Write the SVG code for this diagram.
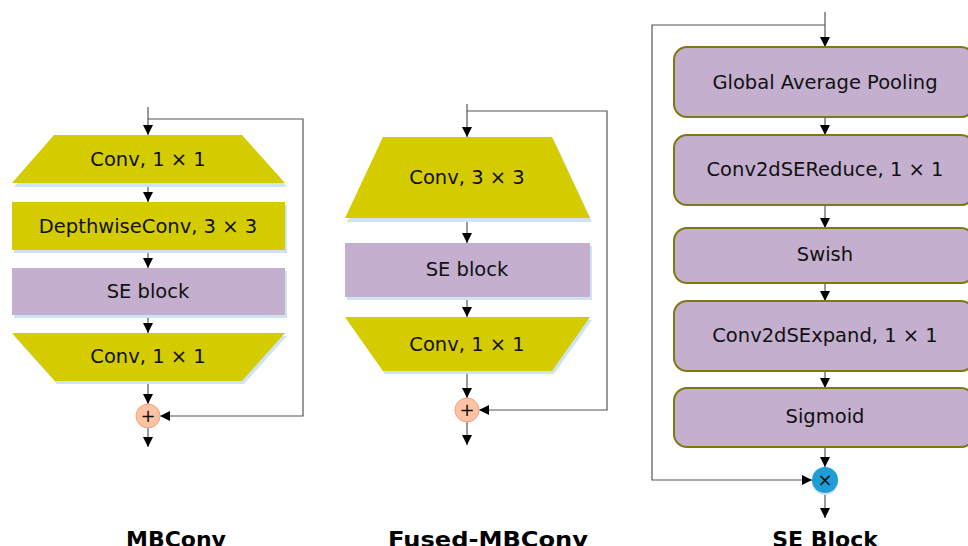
<svg xmlns="http://www.w3.org/2000/svg" width="968" height="546" viewBox="0 0 968 546">
<defs>
<marker id="ah" markerUnits="userSpaceOnUse" markerWidth="10" markerHeight="11" refX="10" refY="5.5" orient="auto">
<path d="M0,0.5 L10,5.5 L0,10.5 z" fill="#000"/>
</marker>
<style>
.lbl{font-family:"DejaVu Sans","Verdana",sans-serif;font-size:19.5px;fill:#111;text-anchor:middle;dominant-baseline:central}
.ttl{font-family:"DejaVu Sans","Verdana",sans-serif;font-size:22px;font-weight:bold;fill:#000;text-anchor:middle}
.yel{fill:#D5CC00}
.pur{fill:#C4AFCF}
.shd{fill:#CFE3F3}
.rr{fill:#C4AFCF;stroke:#7D7A10;stroke-width:2}
.con{fill:none;stroke:#555;stroke-width:1.2}
.arr{marker-end:url(#ah)}
.sym{font-family:"DejaVu Sans",sans-serif;font-size:18px;fill:#111;text-anchor:middle;dominant-baseline:central}
</style>
</defs>
<rect width="968" height="546" fill="#fff"/>

<g id="connectors">
<path class="con arr" d="M148,107 V135"/>
<path class="con arr" d="M148,185 V202"/>
<path class="con arr" d="M148,251 V268"/>
<path class="con arr" d="M148,316 V333"/>
<path class="con arr" d="M148,382 V404"/>
<path class="con arr" d="M148,428 V447"/>
<path class="con arr" d="M148,119 H303 V416 H160"/>

<path class="con arr" d="M467,104 V137"/>
<path class="con arr" d="M467,220 V243"/>
<path class="con arr" d="M467,298 V317"/>
<path class="con arr" d="M467,372 V398"/>
<path class="con arr" d="M467,422 V445"/>
<path class="con arr" d="M467,111 H607 V410 H479"/>

<path class="con arr" d="M825,12 V47"/>
<path class="con arr" d="M825,118 V135"/>
<path class="con arr" d="M825,206 V228"/>
<path class="con arr" d="M825,284 V301"/>
<path class="con arr" d="M825,372 V388"/>
<path class="con arr" d="M825,448 V467"/>
<path class="con arr" d="M825,493 V518"/>
<path class="con arr" d="M825,25 H652 V480 H812"/>
</g>

<g id="mb-conv1">
<polygon class="shd" points="55,138 244,138 287,187 14,187"/>
<polygon class="yel" points="54,135 242,135 285,183 12,183"/>
<text class="lbl" x="148" y="159">Conv, 1 × 1</text>
</g>
<g id="mb-dwconv">
<rect class="shd" x="14" y="205" width="273" height="48"/>
<rect class="yel" x="12" y="202" width="273" height="48"/>
<text class="lbl" x="148" y="226">DepthwiseConv, 3 × 3</text>
</g>
<g id="mb-se">
<rect class="shd" x="14" y="271" width="273" height="47"/>
<rect class="pur" x="12" y="268" width="273" height="47"/>
<text class="lbl" x="148" y="291">SE block</text>
</g>
<g id="mb-conv2">
<polygon class="shd" points="14,336 287,336 244,384 57,384"/>
<polygon class="yel" points="12,333 285,333 242,381 55,381"/>
<text class="lbl" x="148" y="356">Conv, 1 × 1</text>
</g>
<g id="mb-add">
<circle cx="148" cy="416" r="12" fill="#FFC3A3" stroke="#F0A080" stroke-width="1"/>
<text class="sym" x="148" y="415">+</text>
</g>

<g id="fmb-conv1">
<polygon class="shd" points="385,140 554,140 592,222 347,222"/>
<polygon class="yel" points="383,137 552,137 590,218 345,218"/>
<text class="lbl" x="467" y="177">Conv, 3 × 3</text>
</g>
<g id="fmb-se">
<rect class="shd" x="347" y="246" width="245" height="54"/>
<rect class="pur" x="345" y="243" width="245" height="54"/>
<text class="lbl" x="467" y="269">SE block</text>
</g>
<g id="fmb-conv2">
<polygon class="shd" points="347,320 592,320 554,374 385,374"/>
<polygon class="yel" points="345,317 590,317 552,371 383,371"/>
<text class="lbl" x="467" y="344">Conv, 1 × 1</text>
</g>
<g id="fmb-add">
<circle cx="467" cy="410" r="12" fill="#FFC3A3" stroke="#F0A080" stroke-width="1"/>
<text class="sym" x="467" y="409">+</text>
</g>

<g id="se-gap">
<rect class="rr" x="674" y="47" width="300" height="70" rx="13"/>
<text class="lbl" x="825" y="82">Global Average Pooling</text>
</g>
<g id="se-reduce">
<rect class="rr" x="674" y="135" width="300" height="70" rx="13"/>
<text class="lbl" x="825" y="169">Conv2dSEReduce, 1 × 1</text>
</g>
<g id="se-swish">
<rect class="rr" x="674" y="228" width="300" height="55" rx="13"/>
<text class="lbl" x="825" y="254">Swish</text>
</g>
<g id="se-expand">
<rect class="rr" x="674" y="301" width="300" height="70" rx="13"/>
<text class="lbl" x="825" y="335">Conv2dSExpand, 1 × 1</text>
</g>
<g id="se-sigmoid">
<rect class="rr" x="674" y="388" width="300" height="59" rx="13"/>
<text class="lbl" x="825" y="416">Sigmoid</text>
</g>
<g id="se-mul">
<circle cx="825" cy="482" r="13" fill="#CFE3F3"/>
<circle cx="825" cy="480" r="13" fill="#1E9DD6"/>
<text class="sym" x="825" y="479">×</text>
</g>

<g id="titles">
<text class="ttl" x="176" y="547">MBConv</text>
<text class="ttl" x="488" y="547" textLength="200" lengthAdjust="spacingAndGlyphs">Fused-MBConv</text>
<text class="ttl" x="825" y="547">SE Block</text>
</g>
</svg>
